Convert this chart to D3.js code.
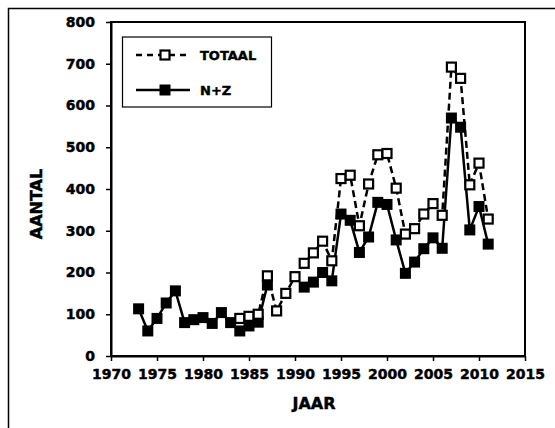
<!DOCTYPE html>
<html><head><meta charset="utf-8">
<script src="https://cdn.jsdelivr.net/npm/d3@7"></script>
<style>
html,body{margin:0;padding:0;background:#fff;}
svg text{font-family:"DejaVu Sans",sans-serif;font-weight:bold;fill:#000;stroke:#000;stroke-width:0.45px;}
</style></head>
<body>
<svg id="c" width="555" height="428"></svg>
<script>
const years = d3.range(1973, 2012);
const nzValues = [113,60,90,127,156,80,87,92,78,104,80,60,72,81,170,null,null,null,165,177,200,180,340,325,248,285,368,363,278,198,225,257,283,258,570,548,302,358,268];
const totaalValues = [null,null,null,null,null,null,null,null,null,null,null,90,95,100,192,108,150,190,222,247,275,228,425,433,312,412,482,485,402,292,305,340,365,337,692,665,410,462,328];
const xTicks = [1970,1975,1980,1985,1990,1995,2000,2005,2010,2015];
const yTicks = [0,100,200,300,400,500,600,700,800];
const seriesNames = ["TOTAAL","N+Z"];

const svg = d3.select("#c");
const L = 111, R = 525, T = 22, B = 356;
const x = d3.scaleLinear().domain([1970,2015]).range([L,R]);
const y = d3.scaleLinear().domain([0,800]).range([B,T]);

svg.append("path").attr("d","M8.5,428 L8.5,8.5 L555,8.5").attr("fill","none").attr("stroke","#000").attr("stroke-width",1.5);

svg.append("rect").attr("x",L).attr("y",T).attr("width",R-L).attr("height",B-T)
  .attr("fill","none").attr("stroke","#000").attr("stroke-width",2);

const xa = svg.append("g").attr("transform",`translate(0,${B})`)
  .call(d3.axisBottom(x).tickValues(xTicks).tickFormat(d3.format("d")).tickSize(5).tickSizeOuter(0));
const ya = svg.append("g").attr("transform",`translate(${L},0)`)
  .call(d3.axisLeft(y).tickValues(yTicks).tickSize(5).tickSizeOuter(0));
[xa,ya].forEach(g=>{
  g.select(".domain").attr("stroke","#000").attr("stroke-width",2);
  g.selectAll(".tick line").attr("stroke","#000").attr("stroke-width",1.5);
  g.selectAll("text").attr("font-size",14).attr("font-family","DejaVu Sans").attr("font-weight","bold");
});
xa.selectAll("text").attr("dy","0.71em").attr("y",13);
ya.selectAll("text").attr("x",-16);

svg.append("text").attr("x",314).attr("y",409).attr("text-anchor","middle").attr("font-size",16).text("JAAR");
svg.append("text").attr("transform","translate(42,204) rotate(-90)").attr("text-anchor","middle").attr("font-size",16).text("AANTAL");

const nzData = years.map((yr,i)=>({yr, v:nzValues[i]}));
const totData = years.map((yr,i)=>({yr, v:totaalValues[i]}));
const line = d3.line().defined(d=>d.v!==null).x(d=>x(d.yr)).y(d=>y(d.v));

svg.append("path").datum(nzData).attr("d",line).attr("fill","none").attr("stroke","#000").attr("stroke-width",2.5);
svg.selectAll("rect.nz").data(nzData.filter(d=>d.v!==null)).enter().append("rect")
  .attr("x",d=>x(d.yr)-5.5).attr("y",d=>y(d.v)-5.5).attr("width",11).attr("height",11).attr("fill","#000");

svg.append("path").datum(totData).attr("d",line).attr("fill","none").attr("stroke","#000").attr("stroke-width",2.5).attr("stroke-dasharray","7,4");
svg.selectAll("rect.tot").data(totData.filter(d=>d.v!==null)).enter().append("rect")
  .attr("x",d=>x(d.yr)-4.5).attr("y",d=>y(d.v)-4.5).attr("width",9).attr("height",9)
  .attr("fill","#fff").attr("stroke","#000").attr("stroke-width",2.2);

const lg = svg.append("g");
lg.append("rect").attr("x",122.5).attr("y",37).attr("width",149).attr("height",70).attr("fill","#fff").attr("stroke","#000").attr("stroke-width",1.2);
lg.append("line").attr("x1",136).attr("x2",190).attr("y1",55).attr("y2",55).attr("stroke","#000").attr("stroke-width",2.5).attr("stroke-dasharray","6,5");
lg.append("rect").attr("x",160.5).attr("y",50.5).attr("width",9).attr("height",9).attr("fill","#fff").attr("stroke","#000").attr("stroke-width",2.2);
lg.append("text").attr("x",200).attr("y",55).attr("dy","0.36em").attr("font-size",13).text(seriesNames[0]);
lg.append("line").attr("x1",136).attr("x2",190).attr("y1",90).attr("y2",90).attr("stroke","#000").attr("stroke-width",2.5);
lg.append("rect").attr("x",159.5).attr("y",84.5).attr("width",11).attr("height",11).attr("fill","#000");
lg.append("text").attr("x",200).attr("y",90).attr("dy","0.36em").attr("font-size",13).text(seriesNames[1]);
</script>
</body></html>
